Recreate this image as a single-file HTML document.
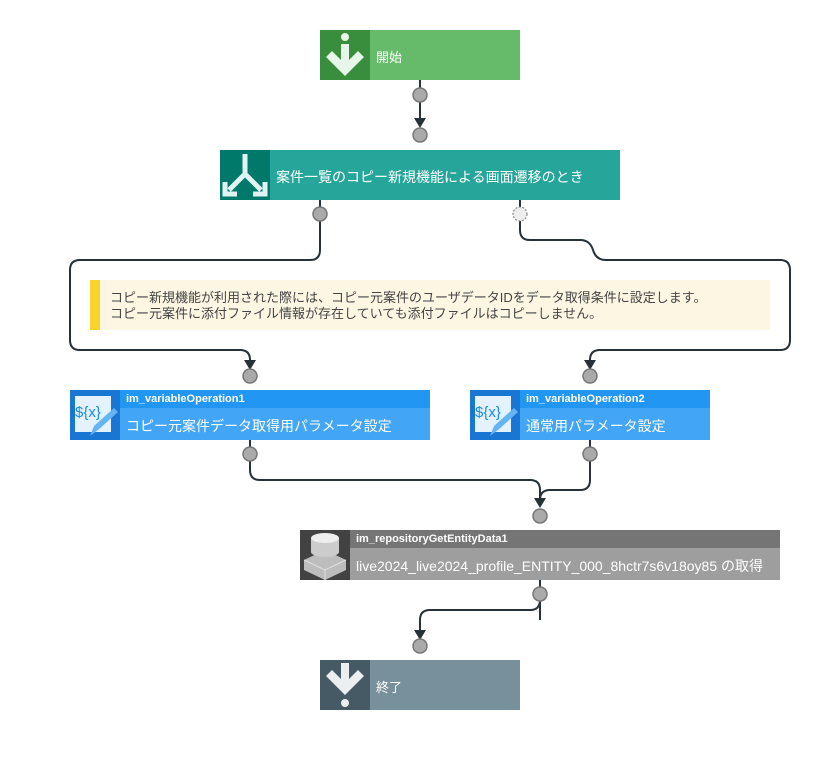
<!DOCTYPE html>
<html><head><meta charset="utf-8"><style>
body{margin:0;background:#fff;width:830px;height:760px;position:relative;overflow:hidden;font-family:"Liberation Sans","Noto Sans CJK JP",sans-serif;}
.n{position:absolute;color:#fff;}
.ic{position:absolute;left:0;top:0;width:50px;height:50px;}
.t{position:absolute;left:56px;font-size:13px;white-space:nowrap;}
svg{position:absolute;left:0;top:0;}
</style></head><body>
<svg width="830" height="760">
<g fill="none" stroke="#263238" stroke-width="2">
<path d="M420 80V120"/>
<path d="M320 200V250q0 10-10 10H80q-10 0-10 10V340q0 10 10 10H240q10 0 10 10V362"/>
<path d="M520 200V230q0 10 10 10H580q10 0 13 10t13 10H780q10 0 10 10V340q0 10-10 10H600q-10 0-10 10V362"/>
<path d="M250 440V470q0 10 10 10H530q10 0 10 10V500"/>
<path d="M590 440V480q0 10-10 10H550q-10 0-10 10"/>
<path d="M540 580V620"/>
<path d="M540 600q0 10-10 10H430q-10 0-10 10V632"/>
</g>
<g fill="#263238">
<path d="M414 118h12l-6 10z"/>
<path d="M244 360h12l-6 10z"/>
<path d="M584 360h12l-6 10z"/>
<path d="M534 498h12l-6 10z"/>
<path d="M414 630h12l-6 10z"/>
</g>
<g fill="#aaa" stroke="#777" stroke-width="1.5">
<circle cx="420" cy="95" r="7"/><circle cx="420" cy="135" r="7"/>
<circle cx="320" cy="214" r="7"/>
<circle cx="250" cy="376" r="7"/><circle cx="590" cy="376" r="7"/>
<circle cx="250" cy="454" r="7"/><circle cx="590" cy="454" r="7"/>
<circle cx="540" cy="516" r="7"/><circle cx="540" cy="594" r="7"/>
<circle cx="420" cy="646" r="7"/>
</g>
<circle cx="520" cy="214" r="7" fill="#eee" stroke="#888" stroke-width="1.2" stroke-dasharray="2 1.5"/>
</svg>

<!-- start -->
<div class="n" style="left:320px;top:30px;width:200px;height:50px;background:#66bb6a">
<div class="ic" style="background:#388e3c"><svg width="50" height="50"><circle cx="25" cy="7" r="4" fill="#e8f5e9"/><path d="M21 14h8v16l9-9 6 6-19 19-19-19 6-6 9 9z" fill="#e8f5e9"/></svg></div>
<div class="t" style="top:17px">開始</div></div>

<!-- branch -->
<div class="n" style="left:220px;top:150px;width:400px;height:50px;background:#26a69a">
<div class="ic" style="background:#00796b"><svg width="50" height="50"><path d="M25 4v20M25 24L9 40M25 24l16 16M5 32v12h12M45 32v12H33" stroke="#e0f2f1" stroke-width="5" fill="none"/></svg></div>
<div class="t" style="top:17px;font-size:14px">案件一覧のコピー新規機能による画面遷移のとき</div></div>

<!-- comment -->
<div style="position:absolute;left:90px;top:280px;width:680px;height:50px;background:#fdf6e3">
<div style="position:absolute;left:0;top:0;width:10px;height:50px;background:#fbd32d"></div>
<div style="position:absolute;left:20px;top:10px;font-size:13px;line-height:16px;color:#444;white-space:nowrap">コピー新規機能が利用された際には、コピー元案件のユーザデータIDをデータ取得条件に設定します。<br>コピー元案件に添付ファイル情報が存在していても添付ファイルはコピーしません。</div></div>

<!-- var op 1 -->
<div class="n" style="left:70px;top:390px;width:360px;height:50px;background:#42a5f5">
<div style="position:absolute;left:50px;top:0;right:0;height:18px;background:#2196f3"></div>
<div class="ic" style="background:#1976d2"><div style="position:absolute;left:5px;top:6px;width:36px;height:36px;background:#e3f2fd;color:#1e88e5;font-size:15px;line-height:34px">${x}</div><svg width="50" height="50"><path d="M20 46l4-10 20-18 4 4-20 18z" fill="#64b5f6"/></svg></div>
<div class="t" style="top:3px;font-size:11px;font-weight:bold">im_variableOperation1</div>
<div class="t" style="top:26px;font-size:14px">コピー元案件データ取得用パラメータ設定</div></div>

<!-- var op 2 -->
<div class="n" style="left:470px;top:390px;width:240px;height:50px;background:#42a5f5">
<div style="position:absolute;left:50px;top:0;right:0;height:18px;background:#2196f3"></div>
<div class="ic" style="background:#1976d2"><div style="position:absolute;left:5px;top:6px;width:36px;height:36px;background:#e3f2fd;color:#1e88e5;font-size:15px;line-height:34px">${x}</div><svg width="50" height="50"><path d="M20 46l4-10 20-18 4 4-20 18z" fill="#64b5f6"/></svg></div>
<div class="t" style="top:3px;font-size:11px;font-weight:bold">im_variableOperation2</div>
<div class="t" style="top:26px;font-size:14px">通常用パラメータ設定</div></div>

<!-- repo -->
<div class="n" style="left:300px;top:530px;width:480px;height:50px;background:#9e9e9e">
<div style="position:absolute;left:50px;top:0;right:0;height:18px;background:#757575"></div>
<div class="ic" style="background:#424242"><svg width="50" height="50"><path d="M4 30l21-10 21 10v10L25 50 4 40z" fill="#bdbdbd"/><path d="M4 30l21 10 21-10M25 40v10" fill="none" stroke="#e0e0e0" stroke-width="1"/><rect x="11" y="8" width="28" height="14" fill="#ccc"/><ellipse cx="25" cy="22" rx="14" ry="5" fill="#ccc"/><ellipse cx="25" cy="8" rx="14" ry="5" fill="#eee"/></svg></div>
<div class="t" style="top:3px;font-size:11px;font-weight:bold">im_repositoryGetEntityData1</div>
<div class="t" style="top:26px;font-size:14px">live2024_live2024_profile_ENTITY_000_8hctr7s6v18oy85 の取得</div></div>

<!-- end -->
<div class="n" style="left:320px;top:660px;width:200px;height:50px;background:#78909c">
<div class="ic" style="background:#455a64"><svg width="50" height="50"><path d="M21 3h8v16l9-9 6 6-19 19-19-19 6-6 9 9z" fill="#eceff1"/><circle cx="25" cy="43" r="4" fill="#eceff1"/></svg></div>
<div class="t" style="top:17px">終了</div></div>
</body></html>
